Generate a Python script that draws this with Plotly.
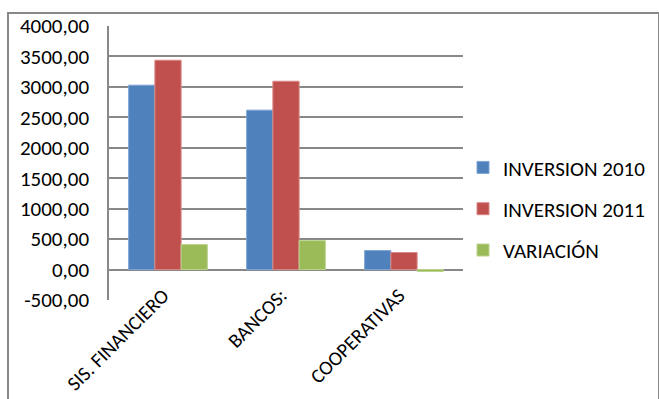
import plotly.graph_objects as go

# Investment by sector, 2010 vs 2011 and the variation between them
categories = ["SIS. FINANCIERO", "BANCOS:", "COOPERATIVAS"]
inversion_2010 = [3028.0, 2618.0, 312.0]
inversion_2011 = [3438.0, 3093.0, 280.0]
variacion = [410.0, 475.0, -32.0]

tick_values = [-500, 0, 500, 1000, 1500, 2000, 2500, 3000, 3500, 4000]
tick_labels = ["-500,00", "0,00", "500,00", "1000,00", "1500,00", "2000,00",
               "2500,00", "3000,00", "3500,00", "4000,00"]

series = [
    ("INVERSION 2010", inversion_2010, "#4F81BD", "#7FA3D3"),
    ("INVERSION 2011", inversion_2011, "#C0504D", "#D98886"),
    ("VARIACIÓN", variacion, "#9BBB59", "#BCD38E"),
]

FONT = "Carlito, Calibri, Lato, sans-serif"
GRID = "#888888"
FS = 21

fig = go.Figure()
for i, (name, vals, color, edge) in enumerate(series):
    fig.add_trace(go.Bar(
        x=categories, y=vals, name=name,
        legendgroup=f"g{i}",
        marker=dict(color=color, line=dict(color=edge, width=1)),
    ))

fig.update_layout(
    width=659, height=399,
    margin=dict(l=109, r=196, t=25.6, b=99, autoexpand=False),
    paper_bgcolor="white", plot_bgcolor="white",
    barmode="group", bargap=0.333, bargroupgap=0,
    font=dict(family=FONT, size=FS, color="black"),
    showlegend=True,
    legend=dict(
        x=1.0, xanchor="left", y=0.333, yanchor="middle",
        font=dict(family=FONT, size=FS, color="black"),
        tracegroupgap=11, itemwidth=30,
        bgcolor="rgba(0,0,0,0)",
    ),
    xaxis=dict(
        tickangle=-45, showgrid=False, showline=False, ticks="",
        automargin=False, ticklabelstandoff=-21, ticklabelshift=-5,
        tickfont=dict(family=FONT, size=20),
    ),
    yaxis=dict(
        range=[-500, 4000], tickvals=tick_values, ticktext=tick_labels,
        showgrid=True, gridcolor=GRID, gridwidth=1.5,
        zeroline=True, zerolinecolor=GRID, zerolinewidth=1.5,
        showline=True, linecolor=GRID, linewidth=1.5,
        ticks="", ticklabelstandoff=14, automargin=False,
        tickfont=dict(family=FONT, size=FS),
    ),
    shapes=[dict(
        type="rect", xref="paper", yref="paper",
        x0=-101 / 354, x1=550 / 354, y0=-0.6, y1=(300 - 12.5) / 274.4,
        line=dict(color="#888888", width=2), layer="below",
    )],
)

fig.write_html("out.html")
